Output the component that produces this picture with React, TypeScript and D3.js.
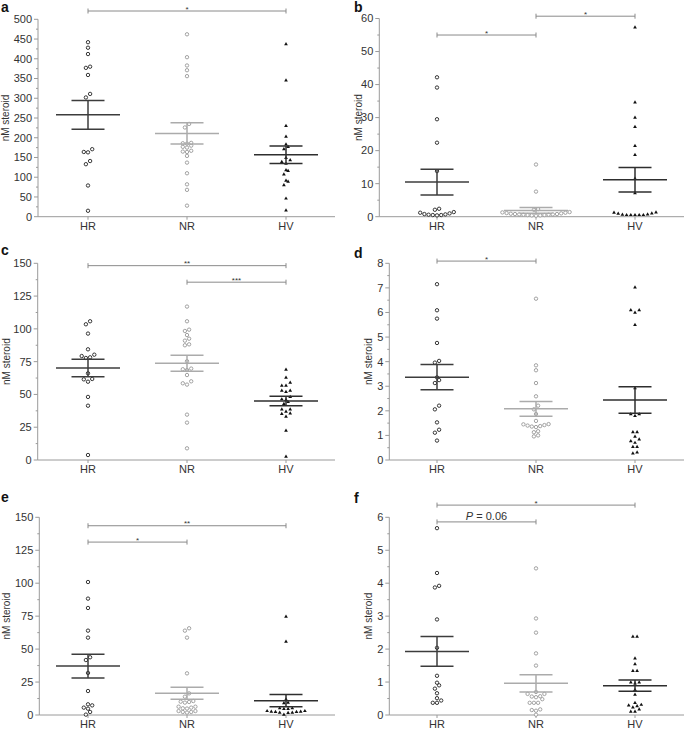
import React from "react";
import * as d3 from "d3";

const groups = ["HR", "NR", "HV"];

// Panel a
const aHR = [442, 428, 412, 380, 377, 359, 311, 302, 171, 164, 163, 141, 133, 79, 15];
const aNR = [462, 404, 383, 371, 356, 235, 226, 187, 186, 185, 180, 177, 175, 167, 165, 164, 154, 137, 110, 82, 68, 28];
const aHV = [437, 345, 230, 203, 183, 177, 171, 149, 143, 139, 134, 118, 116, 107, 91, 89, 80, 46, 16];
const aMean = [258, 211, 157];
const aSem = [36.5, 27, 22];
const aBrackets = [{ from: 0, to: 2, at: 521, label: "*" }];

// Panel b
const bHR = [42.2, 39.1, 29.5, 22.4, 13.8, 2.4, 2.1, 1.4, 1.2, 1.0, 0.8, 0.7, 0.6, 0.5, 0.5, 0.4];
const bNR = [15.8, 7.6, 2.3, 2.1, 1.4, 1.3, 1.2, 1.1, 1.0, 0.9, 0.8, 0.8, 0.7, 0.7, 0.6, 0.6, 0.5, 0.5, 0.4, 0.4, 0.3];
const bHV = [57.3, 34.6, 30.0, 27.2, 21.4, 18.7, 11.5, 7.1, 1.3, 1.2, 1.0, 0.9, 0.7, 0.6, 0.5, 0.5, 0.5, 0.5, 0.5];
const bMean = [10.5, 1.9, 11.2];
const bSem = [3.9, 0.85, 3.7];
const bBrackets = [
  { from: 0, to: 1, at: 55, label: "*" },
  { from: 1, to: 2, at: 60.7, label: "*" },
];

// Panel c
const cHR = [105.8, 103.5, 96.4, 84.4, 80.3, 79.3, 78.3, 77.8, 66.1, 61.8, 61.5, 59.7, 48.1, 41.4, 3.8];
const cNR = [117, 105.8, 99.4, 98.4, 95.3, 92.5, 91, 88.2, 87.5, 75.3, 69.7, 69.2, 68.6, 64.8, 60, 58.5, 57.5, 34.6, 28.5, 8.9];
const cHV = [68.9, 62.8, 59, 56.7, 56.7, 52.9, 52.9, 51.9, 48.1, 46.3, 45.8, 44.2, 42.7, 38.6, 38.6, 36.9, 35.6, 35.1, 33, 22.4, 2.5];
const cMean = [70.2, 73.7, 45];
const cSem = [6.7, 6.1, 3.6];
const cBrackets = [
  { from: 0, to: 2, at: 148.2, label: "**" },
  { from: 1, to: 2, at: 135.6, label: "***" },
];

// Panel d
const dHR = [7.15, 6.09, 5.75, 4.76, 4.03, 3.96, 3.36, 3.25, 3.13, 2.21, 2.06, 1.53, 1.23, 1.11, 0.79];
const dNR = [6.56, 3.85, 3.65, 3.13, 2.59, 2.21, 2.06, 1.87, 1.59, 1.46, 1.45, 1.42, 1.4, 1.38, 1.36, 1.34, 1.17, 1.13, 1.0, 0.96];
const dHV = [7.02, 6.09, 6.09, 5.99, 5.49, 2.92, 1.86, 1.86, 1.79, 1.13, 1.13, 0.95, 0.84, 0.77, 0.7, 0.53, 0.53, 0.31, 0.27];
const dMean = [3.37, 2.08, 2.44];
const dSem = [0.51, 0.3, 0.54];
const dBrackets = [{ from: 0, to: 1, at: 8.09, label: "*" }];

// Panel e
const eHR = [100.9, 88.3, 81.2, 64, 58.7, 43.8, 41.7, 31.9, 18.2, 8.1, 7.3, 5.6, 4.8, 2.3, 0.3];
const eNR = [65.8, 64, 58.7, 31.6, 16.4, 13.9, 10.6, 10.1, 9.9, 9.4, 6.3, 6.3, 5.6, 5.1, 4.9, 3.0, 3.0, 2.3, 2.3, 1.8];
const eHV = [74.6, 55.7, 11.9, 9.4, 8.9, 5.1, 5.1, 4.6, 4.6, 3.0, 3.0, 2.5, 2.5, 2.3, 2.3, 1.8, 1.8, 1.5, 0.3];
const eMean = [37.1, 16.5, 10.9];
const eSem = [9, 4.6, 4.7];
const eBrackets = [
  { from: 0, to: 2, at: 143.6, label: "**" },
  { from: 0, to: 1, at: 131.2, label: "*" },
];

// Panel f
const fHR = [5.67, 4.31, 3.92, 3.87, 2.9, 2.04, 1.19, 0.98, 0.9, 0.8, 0.66, 0.51, 0.44, 0.37, 0.37];
const fNR = [4.45, 2.93, 2.5, 1.87, 1.5, 0.7, 0.64, 0.64, 0.57, 0.56, 0.54, 0.48, 0.37, 0.37, 0.37, 0.17, 0.15, 0.13, 0.01];
const fHV = [2.38, 2.38, 1.72, 1.54, 1.34, 1.34, 0.99, 0.99, 0.96, 0.76, 0.62, 0.37, 0.31, 0.29, 0.27, 0.23, 0.17, 0.1, 0.1];
const fMean = [1.93, 0.96, 0.89];
const fSem = [0.45, 0.26, 0.17];
const fBrackets = [
  { from: 0, to: 2, at: 6.37, label: "*" },
  { from: 0, to: 1, at: 5.86, label: "P = 0.06" },
];

const yMaxes = [500, 60, 150, 8, 150, 6];
const majorSteps = [50, 10, 25, 1, 25, 1];

const FONT = "'Liberation Sans', Arial, Helvetica, sans-serif";
const pointColors = ["#222", "#999", "#111"];
const lineColors = ["#3c3c3c", "#ababab", "#2e2e2e"];
const AXIS = "#9a9a9a";

const panels = [
  { letter: "a", col: 0, y0: 216.7, yTop: 19.3, axisX: 38, yLabX: 9, letterY: 11.5, data: [aHR, aNR, aHV], mean: aMean, sem: aSem, br: aBrackets },
  { letter: "b", col: 1, y0: 216.7, yTop: 18.5, axisX: 379.3, yLabX: 361.5, letterY: 11.5, data: [bHR, bNR, bHV], mean: bMean, sem: bSem, br: bBrackets },
  { letter: "c", col: 0, y0: 460, yTop: 263.3, axisX: 37.7, yLabX: 10, letterY: 255, data: [cHR, cNR, cHV], mean: cMean, sem: cSem, br: cBrackets },
  { letter: "d", col: 1, y0: 460, yTop: 263.3, axisX: 389.3, yLabX: 372, letterY: 258, data: [dHR, dNR, dHV], mean: dMean, sem: dSem, br: dBrackets },
  { letter: "e", col: 0, y0: 715, yTop: 517.3, axisX: 39.3, yLabX: 10, letterY: 502, data: [eHR, eNR, eHV], mean: eMean, sem: eSem, br: eBrackets },
  { letter: "f", col: 1, y0: 715, yTop: 517.3, axisX: 389.3, yLabX: 372, letterY: 503, data: [fHR, fNR, fHV], mean: fMean, sem: fSem, br: fBrackets },
];

const BIN_H = 3.8;
const SPACING = 4.2;

function swarm(values: number[], y: (v: number) => number) {
  const pts = values.map((v) => ({ v, py: y(v), dx: 0 })).sort((a, b) => a.v - b.v);
  const bins: typeof pts[] = [];
  let cur: typeof pts = [];
  let start = 0;
  for (const p of pts) {
    if (cur.length && start - p.py < BIN_H) cur.push(p);
    else {
      if (cur.length) bins.push(cur);
      cur = [p];
      start = p.py;
    }
  }
  if (cur.length) bins.push(cur);
  for (const b of bins) {
    const n = b.length;
    const offs: number[] = [];
    if (n % 2 === 1) {
      offs.push(0);
      for (let k = 1; offs.length < n; k++) offs.push(-k, k);
    } else {
      for (let k = 0.5; offs.length < n; k++) offs.push(-k, k);
    }
    b.forEach((p, i) => (p.dx = offs[i] * SPACING));
  }
  return pts;
}

const triPath = d3.symbol().type(d3.symbolTriangle).size(6)() as string;

function Panel({ p, idx }: { p: any; idx: number }) {
  const yMax = yMaxes[idx];
  const step = majorSteps[idx];
  const y = d3.scaleLinear().domain([0, yMax]).range([p.y0, p.yTop]);
  const x = d3.scalePoint<string>().domain(groups).range(p.col === 0 ? [88, 286] : [437, 635]);
  const xEnd = p.col === 0 ? 335 : 684;
  const majors = d3.range(0, yMax + step / 2, step);
  const minors = d3.range(step / 2, yMax, step);
  const midY = (p.y0 + p.yTop) / 2;

  return (
    <g>
      <text x={p.col === 0 ? 1 : 354} y={p.letterY} fontSize={14} fontWeight="bold" fontFamily={FONT} fill="#111">
        {p.letter}
      </text>
      <text
        transform={`translate(${p.yLabX},${midY}) rotate(-90)`}
        textAnchor="middle"
        fontSize={10}
        fontFamily={FONT}
        fill="#333"
      >
        nM steroid
      </text>
      {/* axes */}
      <line x1={p.axisX} x2={p.axisX} y1={p.y0} y2={y(yMax)} stroke={AXIS} strokeWidth={1} />
      <line x1={p.axisX} x2={xEnd} y1={p.y0} y2={p.y0} stroke={AXIS} strokeWidth={1} />
      {majors.map((t) => (
        <g key={"M" + t}>
          <line x1={p.axisX - 4} x2={p.axisX} y1={y(t)} y2={y(t)} stroke={AXIS} strokeWidth={1} />
          <text x={p.axisX - 6} y={y(t)} dy="0.35em" textAnchor="end" fontSize={11} fontFamily={FONT} fill="#333">
            {t}
          </text>
        </g>
      ))}
      {minors.map((t) => (
        <line key={"m" + t} x1={p.axisX - 2} x2={p.axisX} y1={y(t)} y2={y(t)} stroke={AXIS} strokeWidth={1} />
      ))}
      {groups.map((g) => (
        <g key={"x" + g}>
          <line x1={x(g)} x2={x(g)} y1={p.y0} y2={p.y0 + 3} stroke={AXIS} strokeWidth={1} />
          <text x={x(g)} y={p.y0 + 13} textAnchor="middle" fontSize={11} fontFamily={FONT} fill="#333">
            {g}
          </text>
        </g>
      ))}
      {/* points */}
      {groups.map((g, gi) => {
        const pts = swarm(p.data[gi], y);
        return (
          <g key={"p" + g}>
            {pts.map((pt, i) =>
              gi === 2 ? (
                <path key={i} d={triPath} transform={`translate(${(x(g) as number) + pt.dx},${pt.py})`} fill={pointColors[gi]} />
              ) : (
                <circle
                  key={i}
                  cx={(x(g) as number) + pt.dx}
                  cy={pt.py}
                  r={1.7}
                  fill="#fff"
                  stroke={pointColors[gi]}
                  strokeWidth={0.9}
                />
              )
            )}
          </g>
        );
      })}
      {/* mean and SEM */}
      {groups.map((g, gi) => {
        const cx = x(g) as number;
        const m = p.mean[gi];
        const s = p.sem[gi];
        const c = lineColors[gi];
        return (
          <g key={"m" + g} stroke={c} strokeWidth={1.5}>
            <line x1={cx} x2={cx} y1={y(m - s)} y2={y(m + s)} />
            <line x1={cx - 32} x2={cx + 32} y1={y(m)} y2={y(m)} />
            <line x1={cx - 16.5} x2={cx + 16.5} y1={y(m + s)} y2={y(m + s)} />
            <line x1={cx - 16.5} x2={cx + 16.5} y1={y(m - s)} y2={y(m - s)} />
          </g>
        );
      })}
      {/* significance brackets */}
      {p.br.map((b: any, i: number) => {
        const x1 = x(groups[b.from]) as number;
        const x2 = x(groups[b.to]) as number;
        const by = y(b.at);
        const isP = b.label.startsWith("P");
        return (
          <g key={"b" + i}>
            <line x1={x1} x2={x2} y1={by} y2={by} stroke="#8a8a8a" strokeWidth={1} />
            <line x1={x1} x2={x1} y1={by - 2.5} y2={by + 2.5} stroke="#8a8a8a" strokeWidth={1} />
            <line x1={x2} x2={x2} y1={by - 2.5} y2={by + 2.5} stroke="#8a8a8a" strokeWidth={1} />
            {isP ? (
              <text x={(x1 + x2) / 2} y={by - 2} textAnchor="middle" fontSize={11} fontFamily={FONT} fill="#333">
                <tspan fontStyle="italic">P</tspan>
                {" = 0.06"}
              </text>
            ) : (
              <text x={(x1 + x2) / 2} y={by + 0.5} textAnchor="middle" fontSize={8} fontFamily={FONT} fill="#333">
                {b.label}
              </text>
            )}
          </g>
        );
      })}
    </g>
  );
}

export default function App() {
  return (
    <svg
      width={685}
      height={730}
      viewBox="0 0 685 730"
      style={{ position: "absolute", left: 0, top: 0, background: "#fff" }}
    >
      <rect width={685} height={730} fill="#fff" />
      {panels.map((p, i) => (
        <Panel key={p.letter} p={p} idx={i} />
      ))}
    </svg>
  );
}
